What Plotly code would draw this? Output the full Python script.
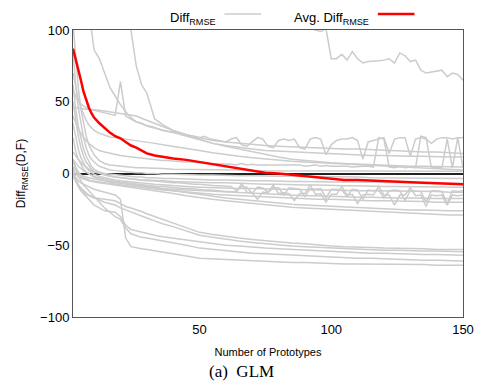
import plotly.graph_objects as go

# coarse x grid for smooth series
X = [2,3,4,5,6,7,8,9,10,12,14,16,18,20,22,24,26,28,30,33,36,40,45,50,55,60,65,70,75,80,85,90,95,100,105,110,115,120,125,130,135,140,145,150]
# fine x grid for jagged series
XN = list(range(2, 151, 2))

avg = [87,80,72,65,57,51,46,42,39,35,31.5,28.5,26,24.5,22,19.5,18,16,14,12.5,11.5,10.5,9.5,8,6.5,5,3,1.5,0.5,0,-1,-1.5,-2.5,-3.5,-4.5,-4.5,-5,-5,-5.5,-6,-6.5,-6.8,-7,-7.5]

B = [250,230,215,200,190,180,172,165,158,145,135,125,117,110,105,100,75,62,56,38,34,30,27,25,23,22,21,20,19.5,19,18.5,18,18,17.5,17,17,16.5,16,16,15.5,15,15,14.5,14]
C = [180,160,145,132,122,114,106,100,86,80,70,60,54,48,43,39,36,34.5,33.5,32,30,28.5,26,23,21,19.5,18,17,16,15.5,15,14.5,14,13.5,13,13,12.5,12.5,12,12,12,11.5,11.5,11.5]
H = [46,46,45.5,45.5,45,45,45,44.5,44.5,44,43.5,43,42.5,42,41.5,41,40,38.5,37,35,33,30,27,24,21,19,17,15,13,11.5,10,9,8,7.5,7,6.5,6,5.5,5.5,5,5,5,4.5,4.5]
U2 = [70,60,52,46,41,37,34,32,30,28,26.5,25.5,25,24.5,24,23.5,23,22.5,22,21,20,19,17.5,16,14.5,13,12,11,10,9,8.5,8,7.5,7,6.5,6,5.5,5,4.5,4,3.5,3,3,2.5]
Z1 = [105,80,60,45,34,26,20,16,13,9,7,6,5.5,5,4.5,4.5,4,4,4,3.5,3.5,3,3,3,2.5,2.5,2.5,2,2,2,2,2,2,2,1.5,1.5,1.5,1.5,1.5,1.5,1.5,1.5,1.5,1.5]
Z2 = [85,62,46,34,25,18,13,10,8,5,3.5,2.5,2,1.5,1,1,0.5,0.5,0,0,-0.5,-0.5,-1,-1,-1,-1.5,-1.5,-1.5,-2,-2,-2,-2,-2.5,-2.5,-2.5,-2.5,-3,-3,-3,-3,-3,-3.5,-3.5,-3.5]
Z3 = [62,45,33,24,17,12,8,5,3,1,0,-0.5,-1,-1.5,-2,-2,-2.5,-2.5,-3,-3,-3.5,-3.5,-4,-4,-4.5,-4.5,-5,-5,-5,-5.5,-5.5,-5.5,-6,-6,-6,-6,-6.5,-6.5,-6.5,-6.5,-7,-7,-7,-7]
Z4 = [50,36,26,18,12,8,5,3,1.5,0,-1,-2,-2.5,-3,-3.5,-4,-4,-4.5,-4.5,-5,-5,-5.5,-6,-6,-6.5,-6.5,-7,-7,-7.5,-7.5,-8,-8,-8,-8.5,-8.5,-8.5,-9,-9,-9,-9,-9.5,-9.5,-9.5,-9.5]
Z5 = [35,25,17,11,7,4,2,0.5,-0.5,-2,-3,-4,-4.5,-5,-5.5,-6,-6.5,-6.5,-7,-7.5,-8,-8.5,-9,-9.5,-10,-10,-10.5,-10.5,-11,-11,-11,-11.5,-11.5,-11.5,-12,-12,-12,-12,-12.5,-12.5,-12.5,-12.5,-13,-13]
Z6 = [25,16,10,6,3,1,-0.5,-1.5,-2.5,-4,-5,-6,-6.5,-7,-7.5,-8,-8.5,-9,-9.5,-10,-10.5,-11,-11.5,-12,-12.5,-13,-13.5,-14,-14.5,-15,-15,-15.5,-15.5,-16,-16,-16.5,-16.5,-17,-17,-17,-17.5,-17.5,-17.5,-17.5]
Z9 = [5,2,0,-2,-3,-4,-4.5,-5,-5.5,-6,-6.5,-7,-7.5,-8,-8.5,-9,-9.5,-10,-10.5,-11,-11.5,-12,-13,-14,-14.5,-15,-15.5,-16,-16.5,-17,-17.5,-17.5,-18,-18,-18.5,-18.5,-19,-19,-19,-19.5,-19.5,-20,-20,-20]
MA = [8,4,1,-1,-2,-2.5,-3,-3.5,-4,-4.5,-5,-5.5,-6,-6.5,-7,-7.5,-8,-8.5,-9,-10,-11,-12,-13.5,-15,-16,-17,-18,-19,-20,-21,-21.5,-22,-22.5,-23,-23.5,-24,-24.5,-25,-25,-25.5,-25.5,-26,-26,-26]
MB = [2,0,-2,-3,-4,-4.5,-5,-5.5,-6,-6.5,-7,-7.5,-8,-8.5,-9,-9.5,-10,-10.5,-11,-12,-13,-14,-15.5,-17,-18,-19,-20,-21,-22,-23,-23.5,-24,-24.5,-25,-25.5,-26,-26.5,-27,-27.5,-28,-28,-28.5,-29,-29]
LA = [5,-3,-8,-11,-13,-14.5,-15.5,-16.5,-17,-17.5,-18,-18.5,-19,-21,-23,-24,-25,-26.5,-28,-30,-32,-34.5,-37.5,-41,-42.5,-44,-45,-46,-47,-48,-48.5,-49,-50,-50.5,-51,-51,-51.5,-52,-52,-52.5,-52.5,-53,-53,-53]
LB = [0,-4,-8,-10,-12,-13.5,-15,-16,-17,-18.5,-20,-21,-22,-24,-25.5,-27,-28,-29.5,-31,-33,-35,-37,-40,-43,-44.5,-46,-47,-48,-49,-50,-50.5,-51,-51.5,-52,-52.5,-53,-53,-53.5,-53.5,-54,-54,-54,-54.5,-54.5]
LC = [-2,-6,-9,-12,-14,-16,-18,-20,-22,-24,-26,-26.5,-27,-30,-36,-39,-40,-41,-42,-43,-44,-45,-46.5,-48,-49,-50,-50.5,-51.5,-52,-52.5,-53,-53.5,-54,-54.5,-55,-55,-55.5,-55.5,-56,-56,-56.5,-56.5,-57,-57]
LD = [10,4,-2,-5,-8,-10,-12,-14,-16,-20,-24,-27,-30,-32,-38,-42,-43.5,-44.5,-45,-46,-47,-48,-50,-52,-53,-54,-55,-55.5,-56,-56.5,-57,-57.5,-58,-58,-58.5,-59,-59,-59.5,-60,-60,-60.5,-60.5,-61,-61]
LE = [0,-3,-5,-6.5,-7.5,-8.5,-9,-10,-11,-12,-13,-14,-15,-18,-45,-51,-52,-52.5,-53,-54,-55,-56,-57.5,-59,-59.5,-60,-60.5,-61,-61,-61.5,-62,-62,-62.5,-62.5,-63,-63,-63,-63,-63.5,-63.5,-63.5,-64,-64,-64]

# jagged series on the fine grid
T1 = [400,330,290,260,240,225,210,200,190,182,
      175,170,165,160,156,152,149,146,143,140,
      138,136,134,132,130,128,126,124,123,121,
      120,119,118,117,116,115,114,113,112,111,
      110,108,106,104,103,101,100,99,101,80,
      80,83,79,85,80,77,78,78,78.5,79,
      80,77,84,82,78,79,72,70,70.5,71,
      72,67.5,70,69,65]
D = [58,50,47,45,44,43,42,41,40.5,64,
     40,38,36,35,33,32,31,30,29.5,29,
     28,27,26.5,26,25,26,24,23.5,23,22,
     24,25,20,19,22,25,24,19,18,23,
     24,23,24,18,17,24,25,24,13,20,
     23,24,24,25,23,10,22,23,24,25,
     14,24,25,25,12,24,25,24,21,24,
     25,25,24,25,25]
N2 = [40,31,25,21,18,16,15,14,13,12.5,
      12,11.5,11,10.5,10,10,9.5,9,9,8.5,
      8.5,8,8,8,7.5,7.5,7,7,7,6.5,
      6.5,6,7,6,6.5,6,6,5.5,6,6,
      5.5,6,5.5,6,5,5.5,6,5,5.5,5,
      5,5.5,5,4.5,5,5,5,4.5,25,24,
      4.5,4,5,4,4.5,4,26,25,4,4.5,
      4,24,4,25,4]
Z7 = [15,10,6,3,1,0,-1,-2,-2.5,-3,
      -3.5,-4,-4,-4.5,-5,-5,-5.5,-6,-6,-6.5,
      -6.5,-7,-7,-7.5,-7.5,-8,-8,-8.5,-8.5,-9,
      -9,-12,-9,-9.5,-14,-9.5,-10,-13,-10,-10,
      -15,-10,-10.5,-11,-16,-10.5,-11,-10.5,-17,-11,
      -11,-11.5,-16,-11,-11.5,-18,-11.5,-12,-11.5,-17,
      -12,-11.5,-12,-19,-12,-12,-12.5,-20,-12,-12,
      -12.5,-21,-12,-12.5,-12]
Z8 = [10,5,2,0,-2,-3,-4,-5,-5.5,-6,
      -6.5,-7,-7.5,-8,-8,-8.5,-9,-9,-9.5,-10,
      -10,-10.5,-10.5,-11,-11,-11.5,-11.5,-12,-12,-12.5,
      -12.5,-13,-7,-13,-13.5,-18,-13,-13.5,-8,-14,
      -13.5,-14,-19,-14,-14,-8,-14.5,-14,-20,-14.5,
      -14.5,-9,-15,-14.5,-21,-15,-14.5,-15,-9,-15,
      -15,-22,-15,-15,-10,-15.5,-15,-23,-15,-15.5,
      -15,-22,-15,-15.5,-15]

coarse_series = [B, C, H, U2, Z1, Z2, Z3, Z4, Z5, Z6, Z9, MA, MB, LA, LB, LC, LD, LE]
fine_series = [T1, D, N2, Z7, Z8]

GRAY = "#cccccc"
fig = go.Figure()
for s in coarse_series:
    fig.add_trace(go.Scatter(x=X, y=s, mode="lines", line=dict(color=GRAY, width=1.5), showlegend=False))
for s in fine_series:
    fig.add_trace(go.Scatter(x=XN, y=s, mode="lines", line=dict(color=GRAY, width=1.5), showlegend=False))
fig.add_trace(go.Scatter(x=X, y=avg, mode="lines", line=dict(color="#ff0000", width=2.5), showlegend=False))

font = "Liberation Sans, Arial, sans-serif"
# page has an 8px body margin, so the figure is sized/margined to land where the reference is
fig.update_layout(
    width=478, height=375,
    margin=dict(l=65, r=19, t=22, b=66),
    paper_bgcolor="white", plot_bgcolor="white",
    font=dict(family=font, size=13, color="black"),
    showlegend=False,
    xaxis=dict(range=[2, 150], tickvals=[50, 100, 150], showgrid=False, zeroline=False,
               showline=True, linecolor="#555", linewidth=1, mirror=True, ticks="",
               tickfont=dict(size=13), title=dict(text="Number of Prototypes", font=dict(size=11), standoff=12)),
    yaxis=dict(range=[-100, 100], tickvals=[-100, -50, 0, 50, 100], showgrid=False,
               zeroline=True, zerolinecolor="#222", zerolinewidth=1.5,
               showline=True, linecolor="#555", linewidth=1, mirror=True, ticks="",
               tickfont=dict(size=13),
               title=dict(text="Diff<sub>RMSE</sub>(D,F)", font=dict(size=12), standoff=11)),
)

# legend drawn as text + line samples (label before sample, as in the reference)
def px2paper_x(px):
    return (px - 73) / 394.0
def py2paper_y(py):
    return (317 - py) / 287.0

fig.add_annotation(x=px2paper_x(218), y=py2paper_y(9), xref="paper", yref="paper",
                   text="Diff<sub>RMSE</sub>", showarrow=False, xanchor="right", yanchor="top",
                   font=dict(size=13), borderpad=0)
fig.add_shape(type="line", xref="paper", yref="paper",
              x0=px2paper_x(226), x1=px2paper_x(263), y0=py2paper_y(14), y1=py2paper_y(14),
              line=dict(color=GRAY, width=1.5))
fig.add_annotation(x=px2paper_x(373), y=py2paper_y(9), xref="paper", yref="paper",
                   text="Avg. Diff<sub>RMSE</sub>", showarrow=False, xanchor="right", yanchor="top",
                   font=dict(size=13), borderpad=0)
fig.add_shape(type="line", xref="paper", yref="paper",
              x0=px2paper_x(381), x1=px2paper_x(418), y0=py2paper_y(14), y1=py2paper_y(14),
              line=dict(color="#ff0000", width=2.5))
fig.add_annotation(x=px2paper_x(243), y=py2paper_y(371), xref="paper", yref="paper",
                   text="(a)  GLM", showarrow=False, xanchor="center", yanchor="middle",
                   font=dict(family="Liberation Serif, Times New Roman, serif", size=17))

fig.write_html("out.html")
